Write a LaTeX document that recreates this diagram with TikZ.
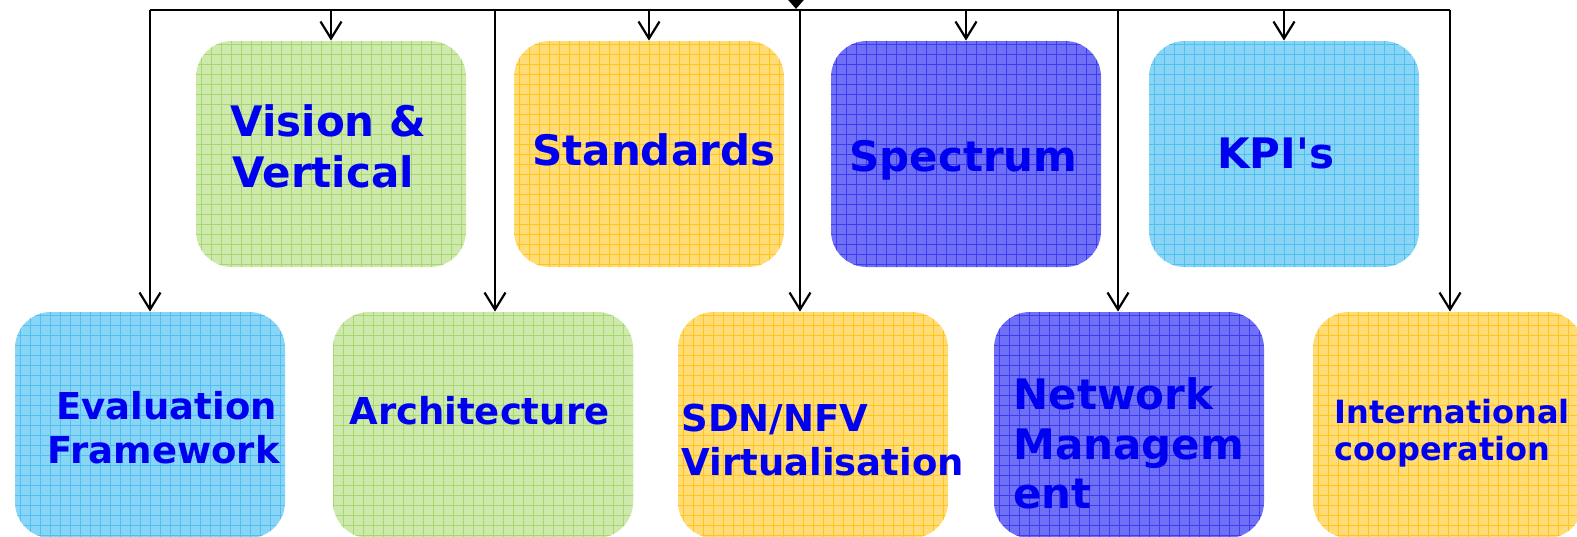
\documentclass[tikz,border=0pt]{standalone}
\usepackage{fontspec}
\setmainfont{DejaVu Sans}
\usetikzlibrary{shapes.geometric,arrows.meta}
\definecolor{gfill}{RGB}{206,233,172}
\definecolor{ggrid}{RGB}{168,214,112}
\definecolor{yfill}{RGB}{255,220,118}
\definecolor{ygrid}{RGB}{255,196,30}
\definecolor{bfill}{RGB}{112,112,247}
\definecolor{bgrid}{RGB}{60,60,240}
\definecolor{cfill}{RGB}{136,213,247}
\definecolor{cgrid}{RGB}{80,192,238}
\definecolor{tblue}{RGB}{0,0,240}
\tikzset{
  box/.style={rounded corners=18pt, inner sep=0pt, minimum height=113pt, minimum width=135pt},
  gridded/.style 2 args={box, fill=#1, path picture={\draw[#2, line width=0.45pt, step=5pt] (path picture bounding box.south west) grid (path picture bounding box.north east);}},
  gbox/.style={gridded={gfill}{ggrid}},
  ybox/.style={gridded={yfill}{ygrid}},
  bbox/.style={gridded={bfill}{bgrid}},
  cbox/.style={gridded={cfill}{cgrid}},
  lbl/.style={anchor=base west, inner sep=0pt, text=tblue, font=\bfseries\fontsize{21pt}{25pt}\selectfont},
  lblm/.style={lbl, font=\bfseries\fontsize{18.5pt}{22pt}\selectfont},
  lbls/.style={lbl, font=\bfseries\fontsize{16pt}{19pt}\selectfont},
  link/.style={line width=1.1pt, draw=black},
  arr/.style={link, -{Straight Barb[length=8.5pt,width=10.5pt]}},
}
\begin{document}
\begin{tikzpicture}[x=0.5pt,y=0.5pt]
\useasboundingbox (0,0) rectangle (1577,-536);

% top row boxes
\node[gbox] (vis) at (331,-154) {};
\node[ybox] (std) at (649,-154) {};
\node[bbox] (spe) at (966,-154) {};
\node[cbox] (kpi) at (1284,-154) {};
% bottom row boxes
\node[cbox] (eva) at (150,-425) {};
\node[gbox, minimum width=150pt] (arc) at (483,-425) {};
\node[ybox] (sdn) at (813,-425) {};
\node[bbox] (net) at (1129,-425) {};
\node[ybox] (int) at (1448,-425) {};

% labels
\node[lbl] (t1a) at (230,-136) {Vision \&};
\node[lbl] (t1b) at (232,-187) {Vertical};
\node[lbl] (t2) at (532,-165) {Standards};
\node[lbl] (t3) at (849,-171) {Spectrum};
\node[lbl] (t4) at (1217,-168) {KPI\textquotesingle s};
\node[lblm] (t5a) at (56,-419) {Evaluation};
\node[lblm] (t5b) at (47,-463) {Framework};
\node[lblm] (t6) at (349,-424) {Architecture};
\node[lblm] (t7a) at (681,-431) {SDN/NFV};
\node[lblm] (t7b) at (681,-475) {Virtualisation};
\node[lbl] (t8a) at (1013,-409) {Network};
\node[lbl] (t8b) at (1013,-459) {Managem};
\node[lbl] (t8c) at (1013,-508) {ent};
\node[lbls] (t9a) at (1334,-423) {International};
\node[lbls] (t9b) at (1334,-460) {cooperation};

% connectors
\coordinate (tl) at (150,-10);
\coordinate (tr) at (1450,-10);
\coordinate (c2) at (495,-10);
\coordinate (c3) at (800,-10);
\coordinate (c4) at (1118,-10);
\draw[link] (tl) -- (tr);
\node[diamond, fill=black, minimum width=8pt, minimum height=9pt, inner sep=0pt] (root) at (796,0) {};

\draw[arr] (vis.north |- tl) -- (vis.north);
\draw[arr] (std.north |- tl) -- (std.north);
\draw[arr] (spe.north |- tl) -- (spe.north);
\draw[arr] (kpi.north |- tl) -- (kpi.north);

\draw[arr] (tl) -- (tl |- eva.north);
\draw[arr] (c2) -- (c2 |- arc.north);
\draw[arr] (c3) -- (c3 |- sdn.north);
\draw[arr] (c4) -- (c4 |- net.north);
\draw[arr] (tr) -- (tr |- int.north);
\end{tikzpicture}
\end{document}
